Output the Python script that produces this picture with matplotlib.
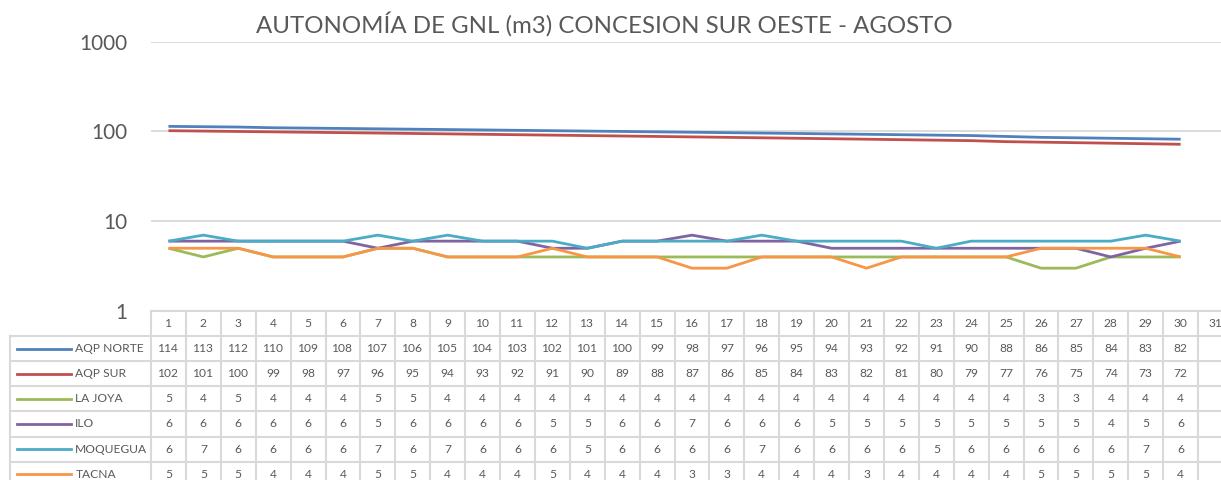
import matplotlib
matplotlib.use('Agg')
import matplotlib.pyplot as plt
from matplotlib.lines import Line2D
from matplotlib.transforms import blended_transform_factory

# ---------------- data ----------------
days = list(range(1, 32))
series_names = ['AQP NORTE', 'AQP SUR', 'LA JOYA', 'ILO', 'MOQUEGUA', 'TACNA']
aqp_norte = [114, 113, 112, 110, 109, 108, 107, 106, 105, 104, 103, 102, 101, 100, 99,
             98, 97, 96, 95, 94, 93, 92, 91, 90, 88, 86, 85, 84, 83, 82]
aqp_sur = [102, 101, 100, 99, 98, 97, 96, 95, 94, 93, 92, 91, 90, 89, 88,
           87, 86, 85, 84, 83, 82, 81, 80, 79, 77, 76, 75, 74, 73, 72]
la_joya = [5, 4, 5, 4, 4, 4, 5, 5, 4, 4, 4, 4, 4, 4, 4,
           4, 4, 4, 4, 4, 4, 4, 4, 4, 4, 3, 3, 4, 4, 4]
ilo = [6, 6, 6, 6, 6, 6, 5, 6, 6, 6, 6, 5, 5, 6, 6,
       7, 6, 6, 6, 5, 5, 5, 5, 5, 5, 5, 5, 4, 5, 6]
moquegua = [6, 7, 6, 6, 6, 6, 7, 6, 7, 6, 6, 6, 5, 6, 6,
            6, 6, 7, 6, 6, 6, 6, 5, 6, 6, 6, 6, 6, 7, 6]
tacna = [5, 5, 5, 4, 4, 4, 5, 5, 4, 4, 4, 5, 4, 4, 4,
         3, 3, 4, 4, 4, 3, 4, 4, 4, 4, 5, 5, 5, 5, 4]
series_values = [aqp_norte, aqp_sur, la_joya, ilo, moquegua, tacna]
y_ticks = [1, 10, 100, 1000]
y_tick_labels = ['1', '10', '100', '1000']
title = 'AUTONOMÍA DE GNL (m3) CONCESION SUR OESTE - AGOSTO'

colors = ['#4F81BD', '#C0504D', '#9BBB59', '#8064A2', '#4BACC6', '#F79646']
text_color = '#595959'
grid_color = '#D9D9D9'

plt.rcParams['font.family'] = ['Lato', 'DejaVu Sans']

W, H = 1221, 480
fig = plt.figure(figsize=(W / 100, H / 100), dpi=100)
fig.patch.set_facecolor('white')

# pixel geometry
ax_left, ax_right, ax_top, ax_bottom = 151, 1233, 41.7, 311
ax = fig.add_axes([ax_left / W, 1 - ax_bottom / H, (ax_right - ax_left) / W, (ax_bottom - ax_top) / H])
ax.set_yscale('log')
ax.set_ylim(1, 1000)
ax.set_xlim(0.5, 31.5)

for name, vals, c in zip(series_names, series_values, colors):
    ax.plot(days[:len(vals)], vals, color=c, lw=2.0, solid_capstyle='butt', zorder=3)

ax.set_yticks(y_ticks)
ax.set_yticklabels(y_tick_labels)
ax.yaxis.set_minor_locator(matplotlib.ticker.NullLocator())
ax.set_xticks([])
ax.tick_params(axis='y', length=0, pad=17, labelsize=16, labelcolor=text_color)
ax.yaxis.grid(True, color=grid_color, lw=1.3)
for s in ax.spines.values():
    s.set_visible(False)

renderer = fig.canvas.get_renderer()


def fit(t, target_w):
    w = t.get_window_extent(renderer).width
    if w > 0:
        t.set_fontsize(t.get_fontsize() * target_w / w)


# tick label size fit to "1000" width
lbls = ax.get_yticklabels()
fig.canvas.draw()
w1000 = lbls[-1].get_window_extent(renderer).width
tick_fs = 16 * 48 / w1000
ax.tick_params(axis='y', labelsize=tick_fs)

# title
tt = fig.text(604.5 / W, 1 - 33 / H, title, ha='center', va='baseline', color=text_color, fontsize=20)
fit(tt, 693)

# ---------------- data table ----------------
bt = blended_transform_factory(ax.transData, fig.transFigure)


def fy(py):
    return 1 - py / H


row_h = 25.1
header_top = 311
row_tops = [header_top + i * row_h for i in range(len(series_names) + 2)]
lw_tab = 1.5

# horizontal lines
fig.add_artist(Line2D([0.5, 31.5], [fy(header_top)] * 2, transform=bt, color=grid_color, lw=lw_tab, zorder=1))
for rt in row_tops[1:]:
    xs = [10 / W, 1.02]
    fig.add_artist(Line2D(xs, [fy(rt)] * 2, transform=fig.transFigure, color=grid_color, lw=lw_tab, zorder=1))
# vertical lines
for k in range(0, 32):
    fig.add_artist(Line2D([k + 0.5] * 2, [fy(header_top), fy(row_tops[-1])], transform=bt,
                          color=grid_color, lw=lw_tab, zorder=1))
fig.add_artist(Line2D([10 / W] * 2, [fy(row_tops[1]), fy(row_tops[-1])], transform=fig.transFigure,
                      color=grid_color, lw=lw_tab, zorder=1))

# cell font size fitted to the width of "114"
cell_fs = 9.0
probe = fig.text(0, 0, '114', fontsize=cell_fs)
w = probe.get_window_extent(renderer).width
cell_fs = cell_fs * 21 / w
probe.remove()

for d in days:
    fig.text(d, fy(header_top + row_h / 2), str(d), transform=bt, ha='center', va='center',
             fontsize=cell_fs, color=text_color)

for i, (name, vals, c) in enumerate(zip(series_names, series_values, colors)):
    yc = fy(row_tops[i + 1] + row_h / 2)
    fig.add_artist(Line2D([17.3 / W, 70.7 / W], [yc, yc], transform=fig.transFigure, color=c, lw=2.0))
    fig.text(75.3 / W, yc, name, ha='left', va='center', fontsize=cell_fs, color=text_color)
    for d, v in zip(days, vals):
        fig.text(d, yc, str(v), transform=bt, ha='center', va='center', fontsize=cell_fs, color=text_color)

fig.savefig('out.png', dpi=100, facecolor='white')
